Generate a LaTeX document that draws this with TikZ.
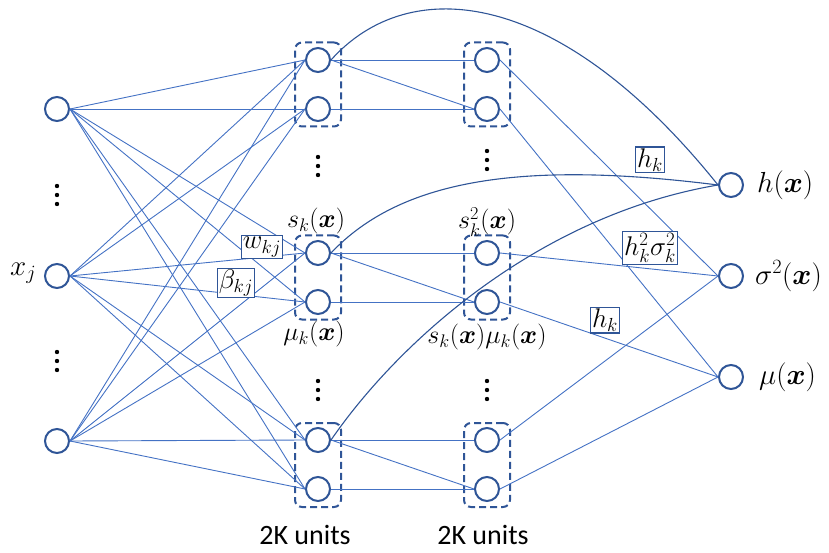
\RequirePackage{fix-cm}
\documentclass[tikz,border=0pt]{standalone}
\usepackage{amsmath,bm}
\usepackage{fontspec}
\newfontfamily\unitsfont{Carlito}
\definecolor{lineblue}{RGB}{68,114,196}
\definecolor{nodeblue}{RGB}{47,85,151}
\definecolor{curveblue}{RGB}{47,85,151}
\begin{document}
\begin{tikzpicture}[x=1pt,y=-1pt,
  neuron/.style={circle, draw=nodeblue, line width=2pt, fill=white, minimum size=24pt, inner sep=0pt},
  conn/.style={draw=lineblue, line width=0.9pt},
  curv/.style={draw=curveblue, line width=1.1pt},
  grp/.style={draw=nodeblue, line width=2pt, dash pattern=on 7pt off 4pt, rounded corners=7pt, minimum width=46pt, minimum height=84pt, inner sep=0pt},
  wbox/.style={draw=nodeblue, line width=1.2pt, fill=white, inner sep=1.5pt, font=\fontsize{27}{30}\selectfont},
  lbl/.style={font=\fontsize{26}{30}\selectfont, inner sep=0pt},
  outlbl/.style={font=\fontsize{29}{33}\selectfont, anchor=west, inner sep=0pt},
  units/.style={font=\unitsfont\fontsize{28}{32}\selectfont, inner sep=0pt},
  vdot/.style={fill=black}
]
\useasboundingbox (0,0) rectangle (829,553);
% group boxes
\node[grp] (g1) at (318,84.5) {};
\node[grp] (g2) at (318,277.5) {};
\node[grp] (g3) at (318,465) {};
\node[grp] (g4) at (487,84.5) {};
\node[grp] (g5) at (487,277.5) {};
\node[grp] (g6) at (487,465) {};
% nodes
\node[neuron] (in1) at (57,109) {};
\node[neuron] (in2) at (57,276) {};
\node[neuron] (in3) at (57,441) {};
\foreach \i/\y in {1/60,2/109,3/253,4/302,5/440,6/489}{
  \node[neuron] (a\i) at (318,\y) {};
  \node[neuron] (b\i) at (487,\y) {};
}
\node[neuron] (h) at (731,185) {};
\node[neuron] (s) at (731,276) {};
\node[neuron] (m) at (731,377) {};
% input to layer 1
\foreach \j in {1,2,3}{
  \foreach \i in {1,...,6}{
    \draw[conn] (in\j.east) -- (a\i.west);
  }
}
% layer 1 to layer 2
\foreach \t/\u in {1/2,3/4,5/6}{
  \draw[conn] (a\t.east) -- (b\t.west);
  \draw[conn] (a\t.east) -- (b\u.west);
  \draw[conn] (a\u.east) -- (b\u.west);
  \draw[conn] (b\t.east) -- (s.west);
  \draw[conn] (b\u.east) -- (m.west);
}
% curves to h
\draw[curv] (a1.east) .. controls (410,-28) and (560,-12) .. (h.west);
\draw[curv] (a3.east) .. controls (400,180) and (520,160) .. (h.west);
\draw[curv] (a5.east) .. controls (400,340) and (540,215) .. (h.west);
% dots
\foreach \x/\y in {57/195,57/361,318/166,487/160,318/390,487/390}{
  \fill[vdot] (\x,\y-9) circle (2.2pt);
  \fill[vdot] (\x,\y) circle (2.2pt);
  \fill[vdot] (\x,\y+9) circle (2.2pt);
}
% labels
\node[lbl] (ls) at (316,221) {$s_k(\bm{x})$};
\node[lbl] (lm) at (314,334) {$\mu_k(\bm{x})$};
\node[lbl] (ls2) at (487,222) {$s_k^2(\bm{x})$};
\node[lbl] (lsm) at (487,337) {$s_k(\bm{x})\mu_k(\bm{x})$};
\node[outlbl] (lx) at (10,273) {$x_j$};
\node[outlbl] (lh) at (757,185) {$h(\bm{x})$};
\node[outlbl] (lsig) at (755,276) {$\sigma^2(\bm{x})$};
\node[outlbl] (lmu) at (759,377) {$\mu(\bm{x})$};
\node[units] (u1) at (305,535) {2K units};
\node[units] (u2) at (483,535) {2K units};
% boxed weights
\node[wbox] (w) at (262,247) {$w_{kj}$};
\node[wbox] (beta) at (236,283) {$\beta_{kj}$};
\node[wbox] (hk1) at (650,160) {$h_k$};
\node[wbox] (hs) at (650,248) {$h_k^2\sigma_k^2$};
\node[wbox] (hk2) at (605,320) {$h_k$};
\end{tikzpicture}
\end{document}
